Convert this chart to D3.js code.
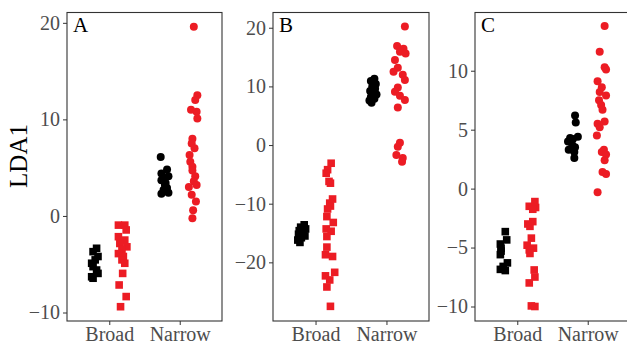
<!DOCTYPE html>
<html>
<head>
<meta charset="utf-8">
<script src="https://cdn.jsdelivr.net/npm/d3@7"></script>
<style>
  body { margin: 0; background: #fff; }
  text { font-family: "Liberation Serif", "Times New Roman", serif; }
</style>
</head>
<body>
<div id="chart"></div>
<script>
const categories = ['Broad', 'Narrow'];
const panelLabels = ['A', 'B', 'C'];

// LDA1 values, plus small horizontal jitter (category units)
const aBroadBlack = [-3.35, -3.7, -4.2, -4.55, -4.9, -5.25, -5.6, -5.95, -6.3, -6.45];
const aBroadBlackJit = [0.01, -0.04, 0.03, -0.01, -0.06, -0.04, 0.01, 0.03, -0.06, -0.04];
const aBroadRed = [-0.95, -0.95, -1.45, -2.15, -2.5, -2.85, -3.2, -3.5, -3.9, -4.2, -4.55, -4.9, -5.95, -7.15, -8.35, -9.4];
const aBroadRedJit = [-0.06, 0.03, 0.05, -0.06, 0.03, -0.04, 0.06, -0.01, -0.06, 0.01, -0.01, 0.03, 0, -0.05, 0.05, -0.03];
const aNarrowBlack = [6.1, 4.8, 4.4, 4.1, 3.9, 3.7, 3.4, 3.2, 2.9, 2.7, 2.4, 2.3];
const aNarrowBlackJit = [-0.08, 0.01, -0.07, 0.03, -0.03, -0.07, -0.01, -0.02, 0.01, -0.04, 0.03, -0.07];
const aNarrowRed = [19.6, 12.5, 12.0, 11.0, 10.8, 10.1, 8.0, 7.5, 7.0, 6.3, 5.6, 5.1, 4.7, 4.1, 3.6, 3.2, 3.0, 2.2, 1.5, 0.6, -0.25];
const aNarrowRedJit = [0.01, 0.06, 0.03, -0.03, 0.05, 0.06, -0.01, -0.02, 0.02, -0.05, -0.04, -0.01, -0.01, 0.03, 0.01, 0.05, -0.06, -0.02, 0.04, 0, -0.01];

const bBroadBlack = [-13.6, -14.0, -14.3, -14.6, -14.9, -15.2, -15.5, -15.8, -16.2, -16.6];
const bBroadBlackJit = [0.03, -0.02, 0.05, -0.04, 0.02, -0.05, 0.04, -0.01, -0.06, -0.03];
const bBroadRed = [-3.1, -4.2, -4.8, -6.2, -6.5, -9.2, -9.9, -10.4, -10.9, -12.2, -13.2, -14.3, -14.7, -15.6, -17.4, -18.7, -19.0, -21.7, -22.3, -23.0, -24.2, -27.5];
const bBroadRedJit = [0.03, -0.02, -0.04, 0, 0.02, 0.05, 0.01, 0.02, -0.02, -0.03, 0.06, -0.04, 0.03, -0.03, -0.03, -0.05, 0.05, 0.08, -0.05, 0.01, -0.03, 0.02];
const bNarrowBlack = [11.3, 10.9, 10.4, 10.0, 9.6, 9.2, 8.9, 8.6, 8.2, 7.9, 7.6, 7.2];
const bNarrowBlackJit = [0.02, -0.03, 0.04, -0.01, 0.03, -0.04, 0.01, 0.05, -0.03, 0.02, -0.05, -0.02];
const bNarrowRed = [20.2, 16.9, 16.4, 15.9, 15.6, 14.5, 13.2, 12.5, 12.0, 11.1, 9.8, 9.1, 8.4, 7.7, 6.4, 0.4, -0.3, -1.7, -2.2, -2.85];
const bNarrowRedJit = [0.07, -0.04, 0.05, 0, 0.08, -0.07, -0.03, -0.09, 0.04, 0.07, -0.03, -0.07, 0, 0.07, -0.03, 0, -0.03, -0.05, 0.04, 0.03];

const cBroadBlack = [-3.65, -4.35, -4.7, -5.05, -5.3, -5.6, -6.3, -6.6, -6.85, -6.95];
const cBroadBlackJit = [0.02, 0.04, -0.05, -0.04, -0.04, -0.05, 0.05, -0.01, -0.05, 0.02];
const cBroadRed = [-1.1, -1.5, -1.6, -1.75, -2.8, -3.0, -3.2, -4.2, -4.8, -5.05, -5.2, -5.5, -6.9, -7.5, -8.0, -9.95, -10.0];
const cBroadRedJit = [0.06, -0.02, 0.07, 0.03, 0.03, -0.04, -0.01, 0.01, -0.05, 0.04, -0.02, -0.01, 0.05, 0.06, -0.02, 0.01, 0.06];
const cNarrowBlack = [6.2, 5.6, 4.4, 4.3, 4.2, 4.0, 3.7, 3.5, 3.3, 3.1, 2.6];
const cNarrowBlackJit = [0.01, 0.02, 0.05, -0.06, -0.02, -0.09, -0.03, 0.01, -0.08, 0, 0];
const cNarrowRed = [13.8, 11.6, 10.3, 10.1, 9.1, 8.6, 8.2, 7.9, 7.5, 7.1, 6.7, 5.7, 5.5, 5.2, 4.5, 3.3, 3.1, 2.9, 2.4, 1.4, 1.25, -0.3];
const cNarrowRedJit = [0.05, -0.02, 0.05, 0.07, -0.05, 0.01, -0.02, 0.07, -0.03, 0, 0.02, 0.05, -0.05, -0.02, -0.06, 0.04, 0.01, 0.07, 0.05, 0.02, 0.07, -0.05];

const yDomains = [[-10.88, 21.07], [-30.0, 22.6], [-11.23, 14.94]];
const yTicks = [[-10, 0, 10, 20], [-20, -10, 0, 10, 20], [-10, -5, 0, 5, 10]];

const panelsData = [
  [[aBroadBlack, aBroadBlackJit, 0, 'black'], [aBroadRed, aBroadRedJit, 0, 'red'],
   [aNarrowBlack, aNarrowBlackJit, 1, 'black'], [aNarrowRed, aNarrowRedJit, 1, 'red']],
  [[bBroadBlack, bBroadBlackJit, 0, 'black'], [bBroadRed, bBroadRedJit, 0, 'red'],
   [bNarrowBlack, bNarrowBlackJit, 1, 'black'], [bNarrowRed, bNarrowRedJit, 1, 'red']],
  [[cBroadBlack, cBroadBlackJit, 0, 'black'], [cBroadRed, cBroadRedJit, 0, 'red'],
   [cNarrowBlack, cNarrowBlackJit, 1, 'black'], [cNarrowRed, cNarrowRedJit, 1, 'red']]
];

const width = 627, height = 343;
const plotTop = 12.5, plotBottom = 321;
const panelX = [[67, 222], [273, 429], [475, 630]];
const colors = { black: '#000000', red: '#ec1c24' };
const dodge = 0.19;

const svg = d3.select('#chart').append('svg')
  .attr('width', width).attr('height', height);

svg.append('text')
  .attr('transform', 'translate(27,156) rotate(-90)')
  .attr('text-anchor', 'middle')
  .style('font-size', '25px')
  .attr('fill', '#000')
  .text('LDA1');

panelsData.forEach((groups, i) => {
  const [x0, x1] = panelX[i];
  // discrete axis: categories at 1,2 with 0.6 padding each side
  const x = d3.scaleLinear().domain([0.4, 2.6]).range([x0, x1]);
  const y = d3.scaleLinear().domain(yDomains[i]).range([plotBottom, plotTop]);
  const g = svg.append('g');

  g.append('rect')
    .attr('x', x0).attr('y', plotTop)
    .attr('width', x1 - x0).attr('height', plotBottom - plotTop)
    .attr('fill', 'none').attr('stroke', '#333').attr('stroke-width', 1.1);

  const yAxis = g.append('g')
    .attr('transform', `translate(${x0},0)`)
    .call(d3.axisLeft(y).tickValues(yTicks[i]).tickSize(4).tickPadding(3)
      .tickFormat(d => d < 0 ? '\u2212' + Math.abs(d) : d));
  yAxis.select('.domain').remove();
  yAxis.selectAll('line').attr('stroke', '#333');
  yAxis.selectAll('text').attr('fill', '#4d4d4d').style('font-size', '20px')
    .style('font-family', '"Liberation Serif", serif');

  const xAxis = g.append('g')
    .attr('transform', `translate(0,${plotBottom})`)
    .call(d3.axisBottom(x).tickValues([1, 2]).tickSize(4).tickPadding(2)
      .tickFormat((d, k) => categories[k]));
  xAxis.select('.domain').remove();
  xAxis.selectAll('line').attr('stroke', '#333');
  xAxis.selectAll('text').attr('fill', '#4d4d4d').style('font-size', '20px')
    .style('font-family', '"Liberation Serif", serif');

  g.append('text')
    .attr('x', x0 + 6).attr('y', plotTop + 19)
    .style('font-size', '21px')
    .attr('fill', '#000')
    .text(panelLabels[i]);

  groups.forEach(([vals, jit, cat, col]) => {
    const cx = k => x(cat + 1 + (col === 'black' ? -dodge : dodge) + jit[k]);
    const pts = g.append('g');
    if (cat === 0) {
      pts.selectAll('rect').data(vals).enter().append('rect')
        .attr('x', (d, k) => cx(k) - 3.8)
        .attr('y', d => y(d) - 3.8)
        .attr('width', 7.6).attr('height', 7.6)
        .attr('fill', colors[col]);
    } else {
      pts.selectAll('circle').data(vals).enter().append('circle')
        .attr('cx', (d, k) => cx(k))
        .attr('cy', d => y(d))
        .attr('r', 4)
        .attr('fill', colors[col]);
    }
  });
});
</script>
</body>
</html>
